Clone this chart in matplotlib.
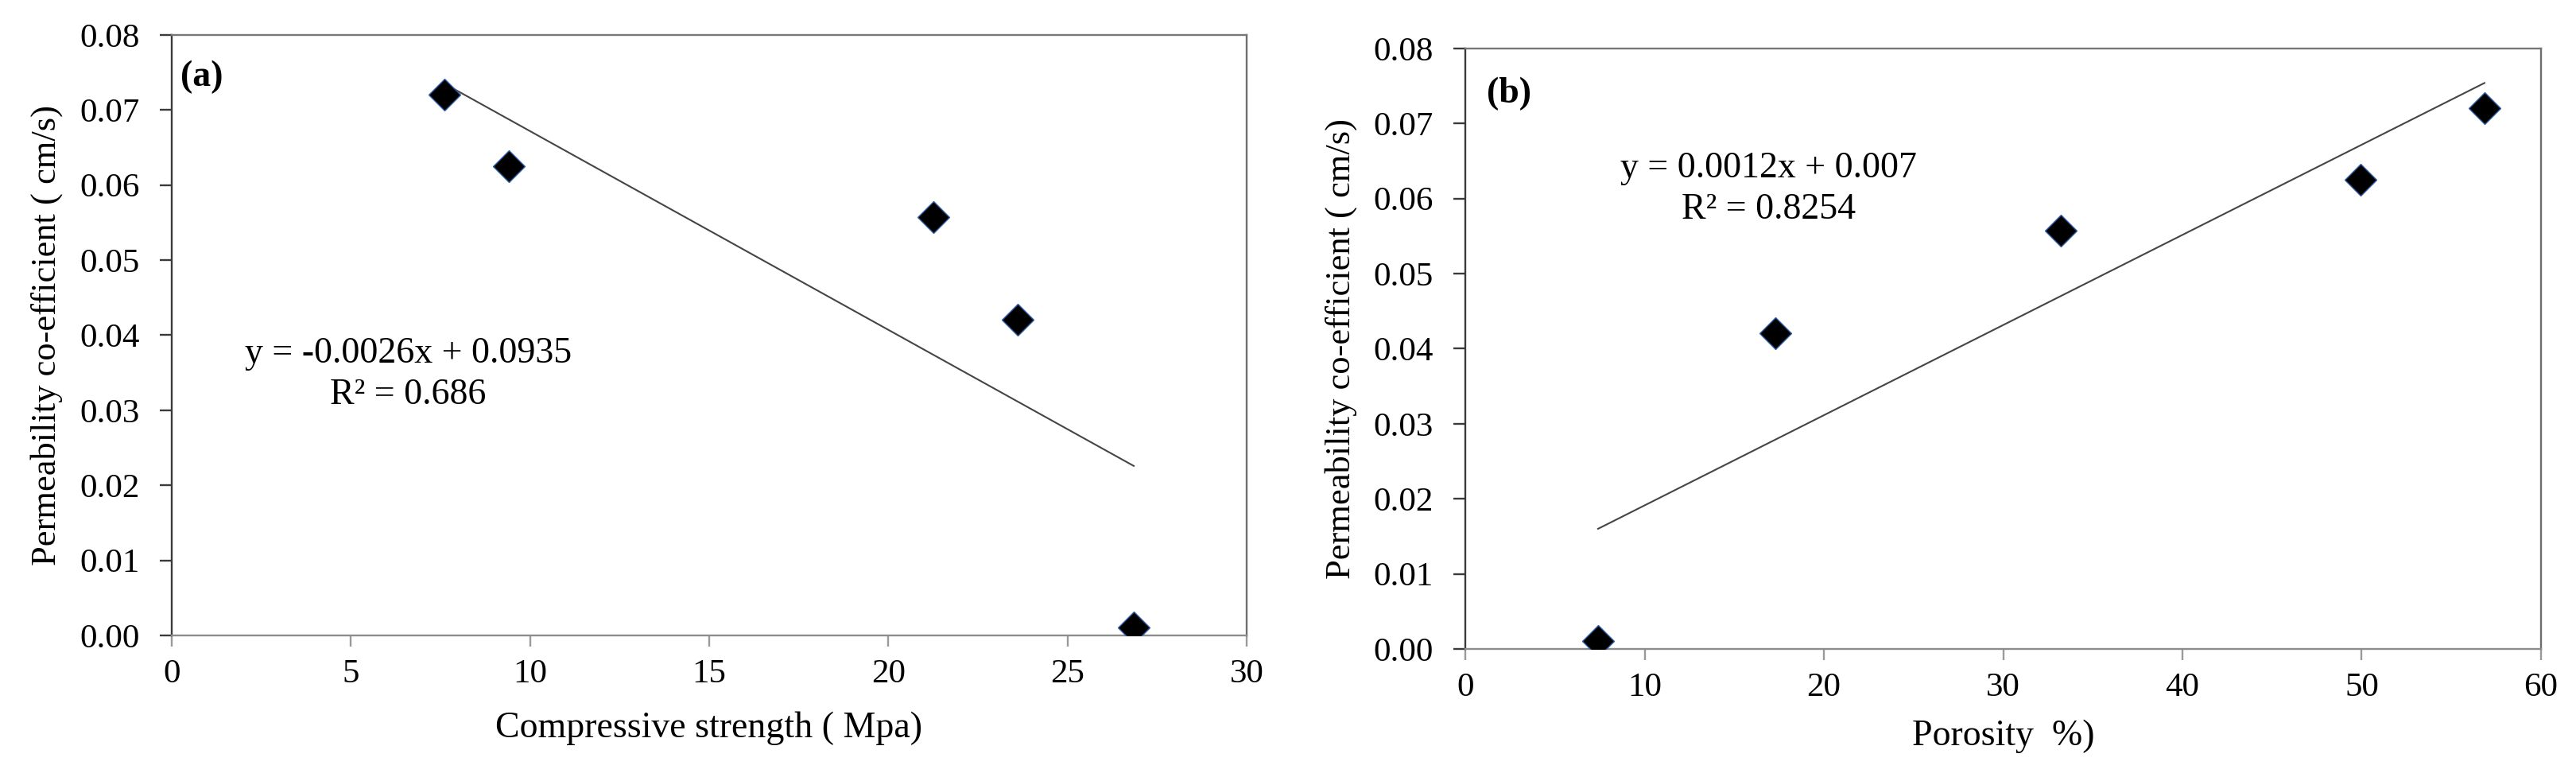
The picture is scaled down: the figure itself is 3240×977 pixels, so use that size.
import numpy as np
import matplotlib
matplotlib.use("Agg")
import matplotlib.pyplot as plt

# data
perm = [0.0720, 0.0625, 0.0557, 0.0421, 0.0011]          # cm/s
comp_strength = [7.62, 9.41, 21.26, 23.60, 26.85]        # MPa
porosity = [56.85, 49.95, 33.20, 17.27, 7.40]            # %

eq_a = ["y = -0.0026x + 0.0935", "R² = 0.686"]
eq_b = ["y = 0.0012x + 0.007", "R² = 0.8254"]

plt.rcParams['font.family'] = ['Liberation Serif', 'DejaVu Serif']

fig = plt.figure(figsize=(32.41, 9.77), dpi=100)
ax_a = fig.add_axes([0.0666, 0.1822, 0.4172, 0.7728])
ax_b = fig.add_axes([0.5687, 0.1648, 0.4174, 0.7728])


def style_axes(ax, xmax, xstep):
    ax.set_xlim(0, xmax)
    ax.set_ylim(0, 0.08)
    ax.set_xticks(np.arange(0, xmax + 0.1, xstep))
    ax.set_yticks(np.arange(0, 0.0801, 0.01))
    ax.set_yticklabels(["%.2f" % v for v in np.arange(0, 0.0801, 0.01)])
    ax.spines['left'].set_color('#3a3a3a')
    ax.spines['top'].set_color('#777777')
    ax.spines['right'].set_color('#6e6e6e')
    ax.spines['bottom'].set_color('#8c8c8c')
    for s in ax.spines.values():
        s.set_linewidth(1.7)
    ax.tick_params(axis='y', direction='out', length=11, width=1.7,
                   color='#3a3a3a', labelsize=31, pad=18)
    ax.tick_params(axis='x', direction='out', length=10, width=1.7,
                   color='#9a9a9a', labelsize=31, pad=11)


def draw(ax, x, y, eq, eq_xy, tag, tag_xy, tag_w):
    ax.plot(x, y, linestyle='none', marker='D', markersize=20,
            markerfacecolor='black', markeredgecolor='#2f5fa8',
            markeredgewidth=1.0, zorder=3)
    # linear trendline, like Excel
    k, b = np.polyfit(x, y, 1)
    xs = np.array([min(x), max(x)])
    ax.plot(xs, k * xs + b, color='#454545', linewidth=1.5, zorder=2)
    ax.text(eq_xy[0], eq_xy[1], eq[0], ha='center', va='center', fontsize=33)
    ax.text(eq_xy[0], eq_xy[1] - 0.0055, eq[1], ha='center', va='center', fontsize=33)
    ax.text(tag_xy[0], tag_xy[1], tag, transform=ax.transAxes, ha='left',
            va='center', fontsize=33, fontweight=tag_w)


style_axes(ax_a, 30, 5)
draw(ax_a, comp_strength, perm, eq_a, (6.6, 0.0375), "(a)", (0.008, 0.93), 'bold')
ax_a.set_xlabel("Compressive strength ( Mpa)", fontsize=33, labelpad=20)
ax_a.set_ylabel("Permeability co-efficient ( cm/s)", fontsize=32, labelpad=15)

style_axes(ax_b, 60, 10)
draw(ax_b, porosity, perm, eq_b, (16.9, 0.064), "(b)", (0.02, 0.924), 'bold')
ax_b.set_xlabel("Porosity  %)", fontsize=33, labelpad=15)
ax_b.set_ylabel("Permeability co-efficient ( cm/s)", fontsize=32, labelpad=15)

fig.savefig("out.png", dpi=100)
